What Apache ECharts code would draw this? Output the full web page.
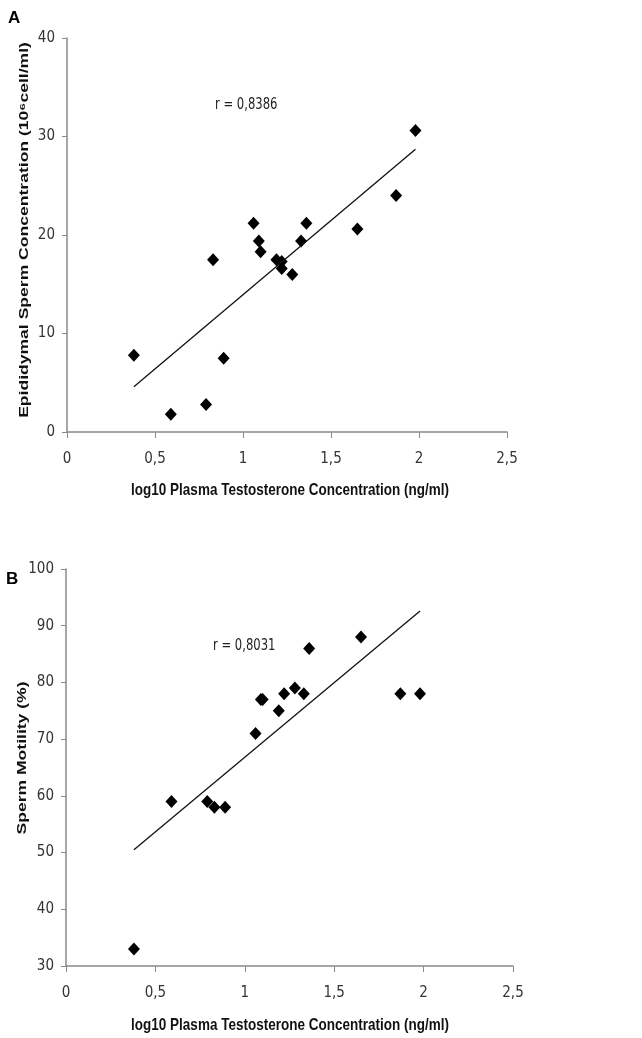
<!DOCTYPE html>
<html>
<head>
<meta charset="utf-8">
<script src="https://cdn.jsdelivr.net/npm/echarts@6/dist/echarts.min.js"></script>
<style>
  html, body { margin: 0; padding: 0; background: #fff; }
  #chart { width: 642px; height: 1038px; }
</style>
</head>
<body>
<div id="chart"></div>
<script>
// log10 plasma testosterone (ng/ml), same animals in both panels
var logT = [0.38, 0.59, 0.79, 0.83, 0.89, 1.06, 1.09, 1.10, 1.19, 1.22, 1.22, 1.28, 1.33, 1.36, 1.65, 1.87, 1.98]
// panel A: epididymal sperm concentration
var spermConc = [7.8, 1.8, 2.8, 17.5, 7.5, 21.2, 19.4, 18.3, 17.5, 17.3, 16.6, 16.0, 19.4, 21.2, 20.6, 24.0, 30.6]
// panel B: sperm motility
var motilityX = [0.38, 0.59, 0.79, 0.83, 0.89, 1.06, 1.09, 1.10, 1.19, 1.22, 1.28, 1.33, 1.36, 1.65, 1.87, 1.98]
var motility = [33, 59, 59, 58, 58, 71, 77, 77, 75, 78, 79, 78, 86, 88, 78, 78]
// trend line end points
var trendA = [[0.38, 4.6], [1.98, 28.7]]
var trendB = [[0.38, 50.5], [1.98, 92.6]]
var xTicks = ['0', '0,5', '1', '1,5', '2', '2,5']

var tickFont = "'Liberation Sans Narrow', 'DejaVu Sans Condensed', sans-serif"
var titleFont = "'Liberation Sans', Arial, sans-serif"
var axisGray = '#8a8a8a'
var xTitle = 'log10 Plasma Testosterone Concentration (ng/ml)'

function pairs(xs, ys) {
  return xs.map(function (x, i) { return [x, ys[i]] })
}

function xAxisCfg(idx) {
  return {
    type: 'value',
    gridIndex: idx,
    min: 0,
    max: 2.5,
    interval: 0.5,
    splitLine: { show: false },
    axisLine: { show: true, onZero: false, lineStyle: { color: axisGray, width: 1.5 } },
    axisTick: { show: true, length: 6, lineStyle: { color: axisGray } },
    axisLabel: {
      color: '#333',
      fontSize: 15,
      fontFamily: tickFont,
      margin: 20,
      formatter: function (v) { return xTicks[Math.round(v * 2)] }
    }
  }
}

function yAxisCfg(idx, min, max) {
  return {
    type: 'value',
    gridIndex: idx,
    min: min,
    max: max,
    interval: 10,
    splitLine: { show: false },
    axisLine: { show: true, lineStyle: { color: axisGray, width: 1.5 } },
    axisTick: { show: true, length: 5, lineStyle: { color: axisGray } },
    axisLabel: { color: '#333', fontSize: 15, fontFamily: tickFont, margin: 12 }
  }
}

function scatterCfg(idx, data) {
  return {
    type: 'scatter', xAxisIndex: idx, yAxisIndex: idx, data: data,
    symbol: 'diamond', symbolSize: [12, 13],
    itemStyle: { color: '#000', opacity: 1 }
  }
}

function trendCfg(idx, data) {
  return {
    type: 'line', xAxisIndex: idx, yAxisIndex: idx, data: data,
    symbol: 'none', lineStyle: { color: '#111', width: 1.3 }
  }
}

var chart = echarts.init(document.getElementById('chart'))
chart.setOption({
  animation: false,
  backgroundColor: '#fff',
  grid: [
    { left: 67, top: 38, width: 440, height: 394 },
    { left: 66, top: 569, width: 447, height: 397 }
  ],
  xAxis: [xAxisCfg(0), xAxisCfg(1)],
  yAxis: [yAxisCfg(0, 0, 40), yAxisCfg(1, 30, 100)],
  series: [
    trendCfg(0, trendA),
    scatterCfg(0, pairs(logT, spermConc)),
    trendCfg(1, trendB),
    scatterCfg(1, pairs(motilityX, motility))
  ],
  graphic: [
    { type: 'text', left: 8, top: 10, style: { text: 'A', font: 'bold 17px ' + titleFont, fill: '#000' } },
    { type: 'text', left: 6, top: 571, style: { text: 'B', font: 'bold 17px ' + titleFont, fill: '#000' } },
    {
      type: 'text', x: 215, y: 105, scaleX: 0.86,
      style: { text: 'r = 0,8386', font: '15px ' + tickFont, fill: '#222', verticalAlign: 'middle' }
    },
    {
      type: 'text', x: 213, y: 646, scaleX: 0.86,
      style: { text: 'r = 0,8031', font: '15px ' + tickFont, fill: '#222', verticalAlign: 'middle' }
    },
    {
      type: 'text', x: 290, y: 491, scaleY: 1.2,
      style: { text: xTitle, font: 'bold 13.5px ' + titleFont, fill: '#111', align: 'center', verticalAlign: 'middle' }
    },
    {
      type: 'text', x: 290, y: 1026, scaleY: 1.2,
      style: { text: xTitle, font: 'bold 13.5px ' + titleFont, fill: '#111', align: 'center', verticalAlign: 'middle' }
    },
    {
      type: 'text', x: 24, y: 230, rotation: Math.PI / 2, scaleX: 1.3,
      style: { text: 'Epididymal Sperm Concentration (10\u2076cell/ml)', font: 'bold 13.5px ' + titleFont, fill: '#111', align: 'center', verticalAlign: 'middle' }
    },
    {
      type: 'text', x: 22, y: 758, rotation: Math.PI / 2, scaleX: 1.3,
      style: { text: 'Sperm Motility (%)', font: 'bold 13.5px ' + titleFont, fill: '#111', align: 'center', verticalAlign: 'middle' }
    }
  ]
})
</script>
</body>
</html>
